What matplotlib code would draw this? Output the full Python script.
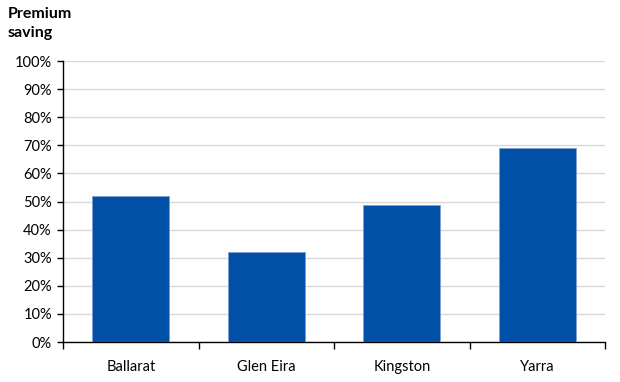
import numpy as np
import matplotlib.pyplot as plt
from matplotlib.ticker import FixedLocator, NullFormatter

councils = ['Ballarat', 'Glen Eira', 'Kingston', 'Yarra']
premium_saving = [52, 32, 48.8, 69]
y_ticks = list(range(0, 101, 10))

plt.rcParams['font.family'] = ['Lato', 'DejaVu Sans']

fig = plt.figure(figsize=(6.2, 3.82), dpi=100)
ax = fig.add_axes([0.1016, 0.1047, 0.8744, 0.7356])

x = np.arange(len(councils))
ax.bar(x, premium_saving, width=0.57, color='#0050a8', edgecolor='#7f9fd0',
       linewidth=0.6, zorder=3)

ax.set_xlim(-0.5, len(councils) - 0.5)
ax.set_ylim(0, 100)
ax.set_yticks(y_ticks)
ax.set_yticklabels([f'{v}%' for v in y_ticks], fontsize=10.5, color='black')
ax.yaxis.grid(True, color='#d9d9d9', linewidth=1, zorder=0)
ax.tick_params(axis='y', length=4, width=1, pad=4)

# category labels centred, tick marks on the category boundaries
ax.set_xticks(x)
ax.set_xticklabels(councils, fontsize=10.5)
ax.tick_params(axis='x', which='major', length=0, pad=13)
ax.xaxis.set_minor_locator(FixedLocator(np.arange(-0.5, len(councils), 1)))
ax.xaxis.set_minor_formatter(NullFormatter())
ax.tick_params(axis='x', which='minor', length=5, width=1)

for side in ['top', 'right']:
    ax.spines[side].set_visible(False)
for side in ['left', 'bottom']:
    ax.spines[side].set_linewidth(1)
    ax.spines[side].set_color('black')

fig.text(0.013, 0.982, 'Premium\nsaving', fontsize=11.5, fontweight='bold',
         va='top', ha='left', linespacing=1.45)

fig.savefig('out.png', dpi=100)
